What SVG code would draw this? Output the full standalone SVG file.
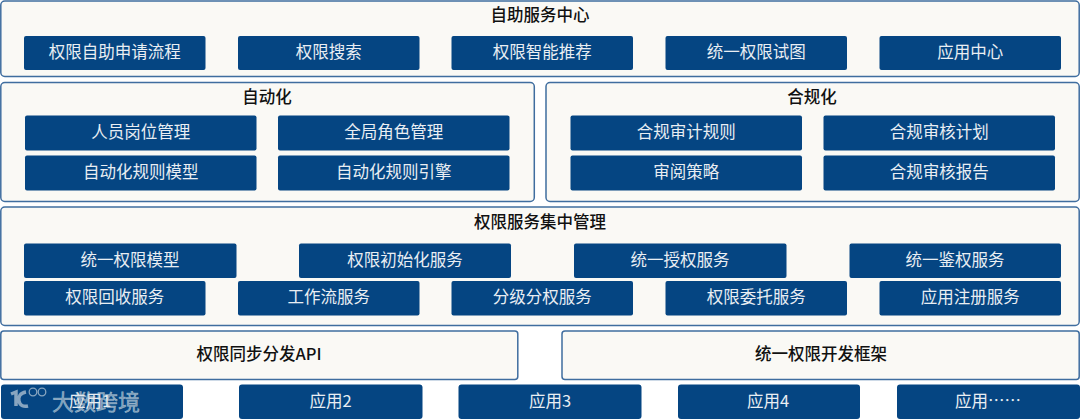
<svg xmlns="http://www.w3.org/2000/svg" width="1080" height="419" viewBox="0 0 1080 419">
<style>
text{font-family:"Noto Sans CJK SC","Liberation Sans",sans-serif;text-anchor:middle;dominant-baseline:central}
.p{fill:#faf9f5;stroke:#3f6d9f;stroke-width:1.5}
.b{fill:#054582}
.t{fill:#111;font-size:16.5px;font-weight:500}
.w{fill:#e9eef3;font-size:16.5px}
.m{fill:#dfe6ea;fill-opacity:.55;stroke:#dfe6ea;stroke-opacity:.55;text-anchor:start}
</style>
<rect width="1080" height="419" fill="#fff"/>
<g id="self-service">
<rect class="p" x="0.8" y="1" width="1078.4" height="75.5" rx="4"/>
<text class="t" x="540" y="14">自助服务中心</text>
<rect class="b" x="24" y="36" width="181.500" height="34" rx="2"/><text class="w" x="114.700" y="50.500">权限自助申请流程</text>
<rect class="b" x="238" y="36" width="181.500" height="34" rx="2"/><text class="w" x="328.700" y="50.500">权限搜索</text>
<rect class="b" x="451.500" y="36" width="181.500" height="34" rx="2"/><text class="w" x="542.200" y="50.500">权限智能推荐</text>
<rect class="b" x="665.500" y="36" width="181.500" height="34" rx="2"/><text class="w" x="756.200" y="50.500">统一权限试图</text>
<rect class="b" x="879.500" y="36" width="181.500" height="34" rx="2"/><text class="w" x="970.200" y="50.500">应用中心</text>
</g>
<g id="automation">
<rect class="p" x="0.8" y="82.500" width="533.500" height="119" rx="4"/>
<text class="t" x="267" y="96">自动化</text>
<rect class="b" x="25" y="115.500" width="231.500" height="35" rx="2"/><text class="w" x="140.700" y="131">人员岗位管理</text>
<rect class="b" x="278" y="115.500" width="231.500" height="35" rx="2"/><text class="w" x="393.700" y="131">全局角色管理</text>
<rect class="b" x="25" y="155.500" width="231.500" height="35" rx="2"/><text class="w" x="140.700" y="171">自动化规则模型</text>
<rect class="b" x="278" y="155.500" width="231.500" height="35" rx="2"/><text class="w" x="393.700" y="171">自动化规则引擎</text>
</g>
<g id="compliance">
<rect class="p" x="546" y="82.500" width="533.200" height="119" rx="4"/>
<text class="t" x="812" y="96">合规化</text>
<rect class="b" x="570.500" y="115.500" width="231.500" height="35" rx="2"/><text class="w" x="686.200" y="131">合规审计规则</text>
<rect class="b" x="823.500" y="115.500" width="231.500" height="35" rx="2"/><text class="w" x="939.200" y="131">合规审核计划</text>
<rect class="b" x="570.500" y="155.500" width="231.500" height="35" rx="2"/><text class="w" x="686.200" y="171">审阅策略</text>
<rect class="b" x="823.500" y="155.500" width="231.500" height="35" rx="2"/><text class="w" x="939.200" y="171">合规审核报告</text>
</g>
<g id="central">
<rect class="p" x="0.8" y="207" width="1078.400" height="118.500" rx="4"/>
<text class="t" x="540" y="221">权限服务集中管理</text>
<rect class="b" x="24" y="243.500" width="212.500" height="34.500" rx="2"/><text class="w" x="130" y="258.500">统一权限模型</text>
<rect class="b" x="299" y="243.500" width="212" height="34.500" rx="2"/><text class="w" x="405" y="258.500">权限初始化服务</text>
<rect class="b" x="574" y="243.500" width="212.500" height="34.500" rx="2"/><text class="w" x="680" y="258.500">统一授权服务</text>
<rect class="b" x="849.500" y="243.500" width="211.500" height="34.500" rx="2"/><text class="w" x="955" y="258.500">统一鉴权服务</text>
<rect class="b" x="24" y="281" width="181.500" height="34.500" rx="2"/><text class="w" x="114.700" y="296">权限回收服务</text>
<rect class="b" x="238" y="281" width="181.500" height="34.500" rx="2"/><text class="w" x="328.700" y="296">工作流服务</text>
<rect class="b" x="451.500" y="281" width="181.500" height="34.500" rx="2"/><text class="w" x="542.200" y="296">分级分权服务</text>
<rect class="b" x="665.500" y="281" width="181.500" height="34.500" rx="2"/><text class="w" x="756.200" y="296">权限委托服务</text>
<rect class="b" x="879.500" y="281" width="181.500" height="34.500" rx="2"/><text class="w" x="970.200" y="296">应用注册服务</text>
</g>
<g id="sync-api">
<rect class="p" x="0.800" y="331" width="517" height="48.500" rx="3"/>
<text class="t" x="259" y="353">权限同步分发API</text>
</g>
<g id="dev-framework">
<rect class="p" x="562" y="331" width="517.200" height="48.500" rx="3"/>
<text class="t" x="821" y="353">统一权限开发框架</text>
</g>
<g id="apps">
<rect class="b" x="1" y="384.500" width="182" height="34.500" rx="3"/><text class="w" x="90" y="400">应用1</text>
<rect class="b" x="239" y="384.500" width="183.500" height="34.500" rx="3"/><text class="w" x="330.500" y="400">应用2</text>
<rect class="b" x="458.500" y="384.500" width="183" height="34.500" rx="3"/><text class="w" x="550" y="400">应用3</text>
<rect class="b" x="678" y="384.500" width="182" height="34.500" rx="3"/><text class="w" x="768" y="400">应用4</text>
<rect class="b" x="897" y="384.500" width="183" height="34.500" rx="3"/><text class="w" x="988" y="400">应用……</text>
</g>
<g id="watermark">
<path d="M11 394l5-2v14M26 392c-6 1-8 5-7 9 1 5 5 6 9 5" fill="none" stroke="#dfe6ea" stroke-opacity=".6" stroke-width="3.500"/>
<circle cx="33" cy="392" r="3.800" fill="none" stroke="#dfe6ea" stroke-opacity=".6" stroke-width="1.300"/>
<circle cx="42" cy="392" r="3.800" fill="none" stroke="#dfe6ea" stroke-opacity=".6" stroke-width="1.300"/>
<text class="m" x="52" y="400" font-size="22" stroke-width=".5">大数跨境</text>
</g>
</svg>
